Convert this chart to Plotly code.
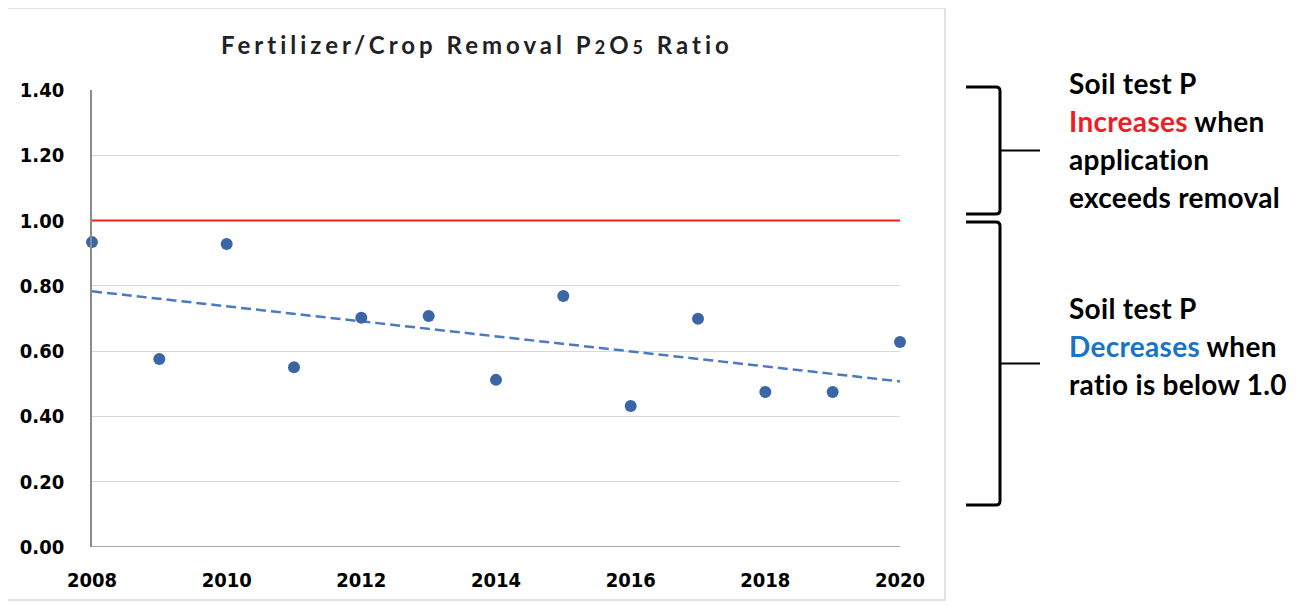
import numpy as np
import plotly.graph_objects as go

years = [2008, 2009, 2010, 2011, 2012, 2013, 2014, 2015, 2016, 2017, 2018, 2019, 2020]
ratio = [0.934, 0.576, 0.928, 0.551, 0.702, 0.708, 0.512, 0.769, 0.432, 0.699, 0.475, 0.475, 0.628]
y_ticks = [0.0, 0.2, 0.4, 0.6, 0.8, 1.0, 1.2, 1.4]
x_ticks = [2008, 2010, 2012, 2014, 2016, 2018, 2020]
threshold = 1.0

OFF = 8  # browser body margin
W, H = 1288, 596
L, R, T, B = 92 - OFF, 900 - OFF, 90 - OFF, 547 - OFF  # plot area in figure px

# linear trend (Excel-style trendline)
coef = np.polyfit(years, ratio, 1)
trend_x = [years[0], years[-1]]
trend_y = list(np.polyval(coef, trend_x))

COND = "Liberation Sans Narrow, DejaVu Sans Condensed, Arial Narrow, sans-serif"
TXT = "Lato, Open Sans, sans-serif"

fig = go.Figure()
fig.add_trace(go.Scatter(x=[years[0], years[-1]], y=[threshold, threshold], mode="lines",
                         line=dict(color="#F01E1E", width=2), hoverinfo="skip"))
fig.add_trace(go.Scatter(x=trend_x, y=trend_y, mode="lines",
                         line=dict(color="#4A7AC0", width=2.5, dash="10px,5px"), hoverinfo="skip"))
fig.add_trace(go.Scatter(x=years, y=ratio, mode="markers",
                         marker=dict(color="#3A66A6", size=12), cliponaxis=False))


def px(x):  # reference screen px -> paper
    return (x - OFF - L) / (R - L)


def py(y):
    return (B - (y - OFF)) / (B - T)


shapes = []
# outer chart frame
shapes.append(dict(type="rect", xref="paper", yref="paper", x0=px(6), x1=px(945), y0=py(600), y1=py(8),
                   line=dict(color="#D9D9D9", width=1.5), layer="below"))


def bracket(top, bot, x_out=966, x_in=1000, tick_end=1040):
    mid = (top + bot) / 2
    r = 4
    path = (f"M {px(x_out)},{py(top)} L {px(x_in - r)},{py(top)} "
            f"Q {px(x_in)},{py(top)} {px(x_in)},{py(top + r)} "
            f"L {px(x_in)},{py(bot - r)} Q {px(x_in)},{py(bot)} {px(x_in - r)},{py(bot)} "
            f"L {px(x_out)},{py(bot)}")
    shapes.append(dict(type="path", xref="paper", yref="paper", path=path,
                       line=dict(color="black", width=3)))
    shapes.append(dict(type="line", xref="paper", yref="paper", x0=px(x_in), x1=px(tick_end),
                       y0=py(mid), y1=py(mid), line=dict(color="black", width=2)))


bracket(87, 214)
bracket(222, 505)

annotations = []
annotations.append(dict(xref="paper", yref="paper", x=px(477), y=py(45), showarrow=False,
                        text="<b><span style='letter-spacing:4px'>Fertilizer/Crop Removal P<span style='font-size:18px'>2</span>O<span style='font-size:18px'>5</span> Ratio</span></b>",
                        font=dict(family=TXT, size=24, color="#222222"), xanchor="center", yanchor="middle"))

lines = [
    (83, "Soil test P"),
    (121, "<span style='color:#EE1C24'>Increases</span> when"),
    (159, "application"),
    (197, "exceeds removal"),
    (308, "Soil test P"),
    (346, "<span style='color:#1874C4'>Decreases</span> when"),
    (384, "ratio is below 1.0"),
]
for yy, t in lines:
    annotations.append(dict(xref="paper", yref="paper", x=px(1067), y=py(yy), showarrow=False,
                            text=f"<b><span style='letter-spacing:0.3px'>{t}</span></b>",
                            font=dict(family=TXT, size=28, color="black"), xanchor="left", yanchor="middle"))

fig.update_layout(
    width=W, height=H,
    margin=dict(l=L, r=W - R, t=T, b=H - B),
    paper_bgcolor="white", plot_bgcolor="white",
    showlegend=False,
    shapes=shapes, annotations=annotations,
    xaxis=dict(range=[2008, 2020], tickvals=x_ticks, ticktext=[f"<b>{v}</b>" for v in x_ticks],
               showgrid=False, zeroline=False, showline=False, ticks="",
               tickfont=dict(family=COND, size=20, color="black"), ticklabelstandoff=19),
    yaxis=dict(range=[0, 1.4], tickvals=y_ticks, ticktext=[f"<b>{v:.2f}</b>" for v in y_ticks],
               showgrid=True, gridcolor="#D9D9D9", gridwidth=1, zeroline=False,
               showline=True, linecolor="#8C8C8C", linewidth=1.5, ticks="",
               tickfont=dict(family=COND, size=20, color="black"), ticklabelstandoff=22),
)
# x axis baseline
fig.add_shape(type="line", xref="x", yref="y", x0=2008, x1=2020, y0=0, y1=0,
              line=dict(color="#8C8C8C", width=1.5), layer="below")

fig.write_html("out.html")
